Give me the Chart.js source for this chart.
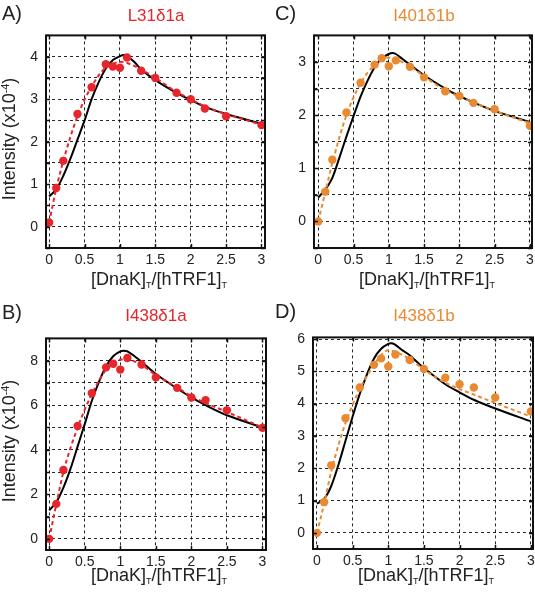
<!DOCTYPE html>
<html>
<head>
<meta charset="utf-8">
<script src="https://cdn.jsdelivr.net/npm/chart.js@4.4.1/dist/chart.umd.min.js"></script>
<style>
  body { margin: 0; background: #fff; font-family: "Liberation Sans", Arial, sans-serif; }
  #fig { position: relative; width: 535px; height: 593px; overflow: hidden; }
  #fig canvas { position: absolute; }
  .txt { position: absolute; white-space: nowrap; line-height: 1; color: #222; }
  .panel { font-size: 20px; }
  .title { font-size: 17px; transform: translateX(-50%); }
  .xtitle { font-size: 18px; transform: translateX(-50%); }
  .ytitle { font-size: 18px; transform: translate(-50%, -50%) rotate(-90deg); }
  .sub { font-size: 0.5em; position: relative; top: 0.35em; }
  .sup { font-size: 0.6em; position: relative; top: -0.6em; }
</style>
</head>
<body>
<div id="fig">
  <canvas id="cA" width="257" height="251" style="left:18px;top:19px"></canvas>
  <canvas id="cC" width="256" height="251" style="left:286px;top:19px"></canvas>
  <canvas id="cB" width="258" height="250" style="left:18px;top:322px"></canvas>
  <canvas id="cD" width="258" height="250" style="left:285px;top:321px"></canvas>

  <div class="txt panel" style="left:2px;top:3px">A)</div>
  <div class="txt panel" style="left:275px;top:3px">C)</div>
  <div class="txt panel" style="left:2px;top:302px">B)</div>
  <div class="txt panel" style="left:275px;top:301px">D)</div>

  <div class="txt title" style="left:156px;top:7px;color:#e6262b">L31δ1a</div>
  <div class="txt title" style="left:424px;top:7px;color:#e98a33">I401δ1b</div>
  <div class="txt title" style="left:156px;top:307px;color:#e6262b">I438δ1a</div>
  <div class="txt title" style="left:424px;top:307px;color:#e98a33">I438δ1b</div>

  <div class="txt xtitle" style="left:159px;top:270px">[DnaK]<span class="sub">T</span>/[hTRF1]<span class="sub">T</span></div>
  <div class="txt xtitle" style="left:427px;top:270px">[DnaK]<span class="sub">T</span>/[hTRF1]<span class="sub">T</span></div>
  <div class="txt xtitle" style="left:159px;top:566px">[DnaK]<span class="sub">T</span>/[hTRF1]<span class="sub">T</span></div>
  <div class="txt xtitle" style="left:426px;top:566px">[DnaK]<span class="sub">T</span>/[hTRF1]<span class="sub">T</span></div>

  <div class="txt ytitle" style="left:9px;top:139px">Intensity (x10<span class="sup">-4</span>)</div>
  <div class="txt ytitle" style="left:9px;top:441px">Intensity (x10<span class="sup">-4</span>)</div>
</div>

<script>
// titration points (ratio DnaK/hTRF1)
const xData = [0, 0.1, 0.2, 0.4, 0.6, 0.8, 0.9, 1.0, 1.1, 1.3, 1.5, 1.8, 2.0, 2.2, 2.5, 3.0];
// x positions of the model curve
const xModel = [0, 0.1, 0.2, 0.3, 0.4, 0.5, 0.6, 0.7, 0.8, 0.9, 1.0, 1.05, 1.1, 1.2, 1.3, 1.5, 1.8, 2.0, 2.2, 2.5, 3.0];

// A) L31d1a
const aPoints = [0.1, 0.91, 1.55, 2.65, 3.28, 3.82, 3.77, 3.74, 3.98, 3.67, 3.5, 3.15, 3.0, 2.78, 2.6, 2.39];
const aFit    = [0.1, 0.9, 1.55, 2.6, 3.3, 3.75, 3.83, 3.88, 3.85, 3.7, 3.5, 3.17, 3.0, 2.83, 2.65, 2.4];
const aModel  = [0.71, 0.88, 1.2, 1.6, 2.05, 2.5, 3.0, 3.4, 3.72, 3.92, 4.01, 4.04, 4.02, 3.88, 3.7, 3.45, 3.15, 2.98, 2.82, 2.65, 2.42];

// C) I401d1b
const cPoints = [0, 0.56, 1.16, 2.05, 2.61, 2.95, 3.07, 2.92, 3.03, 2.91, 2.71, 2.45, 2.36, 2.23, 2.11, 1.8];
const cFit    = [0, 0.55, 1.1, 2.0, 2.6, 2.95, 3.05, 3.08, 3.05, 2.92, 2.73, 2.47, 2.35, 2.24, 2.08, 1.85];
const cModel  = [0.45, 0.6, 0.82, 1.2, 1.6, 1.98, 2.35, 2.65, 2.9, 3.07, 3.15, 3.17, 3.15, 3.05, 2.95, 2.75, 2.5, 2.36, 2.24, 2.08, 1.87];

// B) I438d1a
const bPoints = [0, 1.57, 3.09, 5.07, 6.54, 7.7, 7.86, 7.6, 8.12, 7.83, 7.25, 6.78, 6.35, 6.23, 5.77, 4.99];
const bFit    = [0, 1.55, 3.0, 5.0, 6.5, 7.6, 7.9, 8.05, 8.05, 7.8, 7.35, 6.8, 6.4, 6.1, 5.7, 5.0];
const bModel  = [1.28, 1.65, 2.3, 3.15, 4.15, 5.15, 6.2, 7.05, 7.75, 8.2, 8.42, 8.45, 8.42, 8.2, 7.95, 7.4, 6.75, 6.35, 6.0, 5.55, 5.0];

// D) I438d1b
const dPoints = [0, 0.95, 2.09, 3.55, 4.5, 5.2, 5.4, 5.15, 5.52, 5.35, 5.07, 4.8, 4.6, 4.5, 4.19, 3.76];
const dFit    = [0, 0.9, 1.9, 3.4, 4.45, 5.2, 5.5, 5.65, 5.6, 5.38, 5.05, 4.65, 4.45, 4.28, 4.02, 3.6];
const dModel  = [0.9, 1.05, 1.45, 2.1, 2.85, 3.6, 4.3, 4.9, 5.4, 5.7, 5.85, 5.87, 5.82, 5.65, 5.5, 5.1, 4.6, 4.35, 4.12, 3.85, 3.45];

// labelled ticks
const xTickLabels = [0, 0.5, 1, 1.5, 2, 2.5, 3];
const aYLabels = [0, 1, 2, 3, 4];
const cYLabels = [0, 1, 2, 3];
const bYLabels = [0, 2, 4, 6, 8];
const dYLabels = [0, 1, 2, 3, 4, 5, 6];

const RED = '#e6262b';
const ORANGE = '#e98a33';

const toXY = (xs, ys) => xs.map((x, i) => ({ x: x, y: ys[i] }));

// thick frame round the plot area, with short inward ticks
const framePlugin = {
  id: 'frame',
  afterDraw(chart) {
    const a = chart.chartArea, ctx = chart.ctx;
    const sx = chart.scales.x, sy = chart.scales.y;
    ctx.save();
    ctx.strokeStyle = '#111';
    ctx.lineWidth = 1.5;
    ctx.beginPath();
    sx.ticks.forEach(t => {
      const px = Math.round(sx.getPixelForValue(t.value)) + 0.5;
      ctx.moveTo(px, a.top); ctx.lineTo(px, a.top + 4);
      ctx.moveTo(px, a.bottom); ctx.lineTo(px, a.bottom - 4);
    });
    sy.ticks.forEach(t => {
      const py = Math.round(sy.getPixelForValue(t.value)) + 0.5;
      ctx.moveTo(a.left, py); ctx.lineTo(a.left + 4, py);
      ctx.moveTo(a.right, py); ctx.lineTo(a.right - 4, py);
    });
    ctx.stroke();
    ctx.lineWidth = 2;
    ctx.strokeRect(a.left, a.top, a.right - a.left, a.bottom - a.top);
    ctx.restore();
  }
};

function makePanel(id, color, points, fit, model, yMin, yMax, yStep, yLabels, xMin, xMax) {
  new Chart(document.getElementById(id), {
    type: 'scatter',
    data: {
      datasets: [
        {
          data: toXY(xData, points),
          backgroundColor: color,
          borderWidth: 0,
          pointRadius: 4.2,
          showLine: false
        },
        {
          data: toXY(xData, fit),
          borderColor: color,
          borderWidth: 2,
          borderDash: [4, 3],
          pointRadius: 0,
          showLine: true,
          cubicInterpolationMode: 'monotone'
        },
        {
          data: toXY(xModel, model),
          borderColor: '#000',
          borderWidth: 2,
          pointRadius: 0,
          showLine: true,
          tension: 0.3
        }
      ]
    },
    options: {
      responsive: false,
      animation: false,
      layout: { padding: { top: 10, right: 10, left: 0, bottom: 0 } },
      plugins: { legend: { display: false }, tooltip: { enabled: false } },
      scales: {
        x: {
          type: 'linear',
          min: xMin,
          max: xMax,
          afterFit: s => { s.height = 22; },
          border: { display: false, dash: [3, 3] },
          grid: { color: 'rgba(0,0,0,0.85)', lineWidth: 1, drawTicks: false },
          ticks: {
            stepSize: 0.5,
            includeBounds: false,
            padding: 4,
            color: '#222',
            font: { family: 'Liberation Sans', size: 14 },
            maxRotation: 0,
            autoSkip: false,
            callback: v => xTickLabels.includes(v) ? String(v) : ''
          }
        },
        y: {
          min: yMin,
          max: yMax,
          afterFit: s => { s.width = 28; },
          border: { display: false, dash: [3, 3] },
          grid: { color: 'rgba(0,0,0,0.85)', lineWidth: 1, drawTicks: false },
          ticks: {
            stepSize: yStep,
            includeBounds: false,
            padding: 8,
            color: '#222',
            font: { family: 'Liberation Sans', size: 14 },
            autoSkip: false,
            callback: v => yLabels.includes(v) ? String(v) : ''
          }
        }
      }
    },
    plugins: [framePlugin]
  });
}

makePanel('cA', RED, aPoints, aFit, aModel, -0.5, 4.5, 0.5, aYLabels, -0.045, 3.05);
makePanel('cC', ORANGE, cPoints, cFit, cModel, -0.5, 3.5, 0.5, cYLabels, -0.06, 3.03);
makePanel('cB', RED, bPoints, bFit, bModel, -0.5, 9, 1, bYLabels, -0.045, 3.05);
makePanel('cD', ORANGE, dPoints, dFit, dModel, -0.5, 6.05, 1, dYLabels, -0.056, 3.03);
</script>
</body>
</html>
